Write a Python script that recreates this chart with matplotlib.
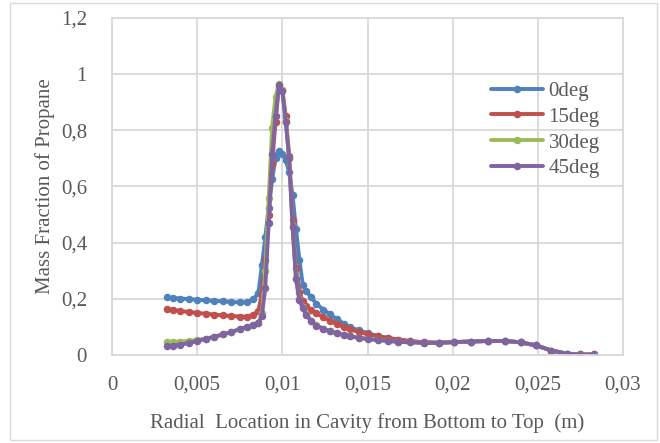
import matplotlib
matplotlib.use("Agg")
import matplotlib.pyplot as plt
from matplotlib.patches import Rectangle
from matplotlib.ticker import FuncFormatter

# Radial positions (m), shared by all four inclinations
radial_m = [0.0032, 0.0036, 0.0040, 0.0045, 0.0050, 0.0055, 0.0060, 0.0065,
            0.0070, 0.0075, 0.0079, 0.0083, 0.0086, 0.0088, 0.0090, 0.0092,
            0.0094, 0.0096, 0.0098, 0.0100, 0.0102, 0.0104, 0.0106, 0.0108,
            0.0110, 0.0112, 0.0114, 0.0117, 0.0120, 0.0124, 0.0128, 0.0132,
            0.0136, 0.0140, 0.0145, 0.0150, 0.0156, 0.0162, 0.0168, 0.0175,
            0.0183, 0.0192, 0.0201, 0.0211, 0.0221, 0.0231, 0.0240, 0.0249,
            0.0258, 0.0267, 0.0275, 0.0283]

frac_0deg = [0.205, 0.203, 0.201, 0.199, 0.197, 0.195, 0.193, 0.191,
             0.189, 0.187, 0.188, 0.198, 0.222, 0.320, 0.420, 0.525,
             0.625, 0.700, 0.725, 0.715, 0.695, 0.650, 0.570, 0.450,
             0.340, 0.250, 0.228, 0.205, 0.182, 0.162, 0.145, 0.128,
             0.112, 0.098, 0.088, 0.078, 0.068, 0.061, 0.055, 0.049,
             0.045, 0.044, 0.046, 0.048, 0.050, 0.050, 0.045, 0.034,
             0.016, 0.005, 0.002, 0.002]

frac_15deg = [0.164, 0.160, 0.157, 0.153, 0.150, 0.147, 0.144, 0.141,
              0.139, 0.137, 0.137, 0.143, 0.158, 0.220, 0.340, 0.500,
              0.680, 0.830, 0.955, 0.945, 0.850, 0.710, 0.480, 0.310,
              0.225, 0.192, 0.174, 0.160, 0.148, 0.135, 0.122, 0.110,
              0.100, 0.091, 0.082, 0.074, 0.066, 0.060, 0.055, 0.050,
              0.045, 0.044, 0.046, 0.048, 0.050, 0.050, 0.045, 0.034,
              0.016, 0.005, 0.002, 0.002]

frac_30deg = [0.047, 0.047, 0.048, 0.050, 0.054, 0.058, 0.065, 0.073,
              0.082, 0.092, 0.100, 0.108, 0.114, 0.150, 0.300, 0.560,
              0.810, 0.920, 0.965, 0.945, 0.835, 0.700, 0.460, 0.275,
              0.200, 0.170, 0.146, 0.122, 0.106, 0.094, 0.085, 0.078,
              0.072, 0.067, 0.062, 0.058, 0.054, 0.050, 0.047, 0.045,
              0.043, 0.043, 0.046, 0.048, 0.050, 0.050, 0.045, 0.034,
              0.016, 0.005, 0.001, 0.001]

frac_45deg = [0.031, 0.033, 0.037, 0.042, 0.050, 0.057, 0.065, 0.073,
              0.082, 0.092, 0.100, 0.108, 0.113, 0.140, 0.240, 0.470,
              0.715, 0.850, 0.960, 0.940, 0.830, 0.700, 0.455, 0.270,
              0.195, 0.168, 0.143, 0.120, 0.105, 0.093, 0.084, 0.077,
              0.071, 0.066, 0.061, 0.057, 0.053, 0.050, 0.047, 0.045,
              0.043, 0.043, 0.046, 0.048, 0.050, 0.050, 0.045, 0.034,
              0.016, 0.005, 0.001, 0.001]

series_labels = ["0deg", "15deg", "30deg", "45deg"]
series_colors = ["#4F81BD", "#C0504D", "#9BBB59", "#8064A2"]

x_ticks = [0, 0.005, 0.01, 0.015, 0.02, 0.025, 0.03]
y_ticks = [0, 0.2, 0.4, 0.6, 0.8, 1.0, 1.2]

W, H = 660, 443
fig = plt.figure(figsize=(W / 100, H / 100), dpi=100)
plt.rcParams["font.family"] = ["Liberation Serif", "DejaVu Serif"]

text_color = "#595959"
grid_color = "#D9D9D9"
fs = 15

# chart frame
fig.patches.append(Rectangle((10 / W, 1 - 440 / H), 647 / W, 437 / H,
                             transform=fig.transFigure, fill=False,
                             edgecolor=grid_color, linewidth=1.0))

left, right, top, bottom = 112, 623, 18, 355
ax = fig.add_axes([left / W, 1 - bottom / H, (right - left) / W, (bottom - top) / H])

for vals, lab, col in zip([frac_0deg, frac_15deg, frac_30deg, frac_45deg],
                          series_labels, series_colors):
    ax.plot(radial_m, vals, color=col, linewidth=2.8, marker="o",
            markersize=4.4, label=lab, solid_capstyle="round")

ax.set_xlim(0, 0.03)
ax.set_ylim(0, 1.2)
ax.set_xticks(x_ticks)
ax.set_yticks(y_ticks)

def comma_fmt(v, pos):
    s = ("%.3f" % v).rstrip("0").rstrip(".")
    return s.replace(".", ",")

ax.xaxis.set_major_formatter(FuncFormatter(comma_fmt))
ax.yaxis.set_major_formatter(FuncFormatter(comma_fmt))

ax.grid(True, color=grid_color, linewidth=1.3)
ax.set_axisbelow(True)
for sp in ax.spines.values():
    sp.set_color(grid_color)
    sp.set_linewidth(1.3)
ax.tick_params(length=0, labelsize=fs, labelcolor=text_color)
ax.tick_params(axis="x", pad=15)
ax.tick_params(axis="y", pad=18)

ax.set_xlabel("Radial  Location in Cavity from Bottom to Top  (m)",
              fontsize=fs, color=text_color, labelpad=13)
ax.set_ylabel("Mass Fraction of Propane", fontsize=fs, color=text_color,
              labelpad=4)

leg = ax.legend(loc="upper left", bbox_to_anchor=(0.742, 0.812), frameon=False,
                fontsize=fs, handlelength=2.5, handletextpad=0.25,
                labelspacing=0.3, borderpad=0, borderaxespad=0)
for t in leg.get_texts():
    t.set_color(text_color)

fig.savefig("out.png", dpi=100)
